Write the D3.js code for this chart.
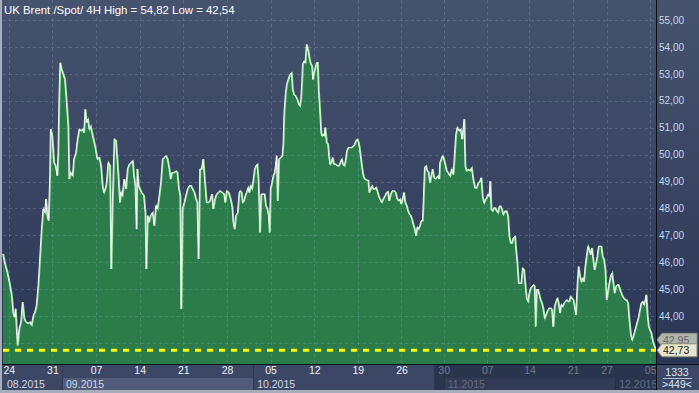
<!DOCTYPE html>
<html>
<head>
<meta charset="utf-8">
<script src="https://cdn.jsdelivr.net/npm/d3@7"></script>
<style>
body { margin: 0; background: #a6aebe; }
svg { display: block; font-family: "Liberation Sans", Arial, sans-serif; }
</style>
</head>
<body>
<div id="chart"></div>
<script>
// 4H bars shown: bar number (position in time) and close price
var barPos = [
  0,1.4,3.0,4.4,6.0,7.1,8.0,8.7,9.4,10.1,11.2,12.4,13.5,14.7,15.8,17.4,18.6,19.7,20.9,22.0,
  23.1,24.3,25.4,26.6,27.7,28.9,29.6,30.5,31.4,32.3,32.8,33.9,35.1,36.2,37.4,38.0,38.7,39.4,40.3,41.5,
  42.6,43.8,44.9,45.6,46.5,47.9,48.8,50.2,51.3,52.5,53.6,54.8,55.7,56.6,57.5,58.4,59.4,60.3,61.7,63.3,
  64.9,66.2,67.4,68.5,69.4,70.4,71.3,72.4,73.6,74.5,75.4,76.6,77.7,78.6,79.5,80.4,81.1,82.1,83.4,84.6,
  85.7,86.9,88.0,89.2,90.1,91.0,91.9,92.4,93.3,94.2,95.3,96.9,97.9,98.6,99.5,100.4,101.5,102.9,104.1,105.2,
  106.3,107.5,108.6,109.8,110.9,112.1,113.2,114.4,115.3,116.2,117.6,119.0,119.9,121.0,121.9,122.6,123.5,124.7,125.8,127.0,
  128.1,129.3,130.4,131.6,132.7,133.6,134.5,135.5,136.6,137.7,138.9,140.0,141.2,142.3,143.7,144.6,145.8,146.9,148.1,149.2,
  150.6,152.0,152.9,153.8,155.2,156.5,157.7,158.4,159.3,160.2,161.4,162.5,
  163.0,164.1,164.8,165.7,166.6,167.5,168.7,169.4,170.3,171.2,172.1,173.1,174.0,174.9,175.8,176.7,177.6,179.0,179.9,180.8,
  181.8,182.7,183.4,184.0,185.0,185.9,186.8,187.5,188.2,188.9,189.8,190.9,192.1,192.8,193.4,194.4,195.1,196.2,197.3,198.5,
  199.2,200.1,201.2,202.4,203.5,204.2,204.9,205.6,206.1,207.0,207.9,208.8,209.5,210.2,211.1,211.8,212.5,213.2,213.9,214.8,
  215.7,216.4,217.1,218.0,218.7,219.3,220.3,221.0,221.6,222.6,223.5,224.2,224.9,225.8,226.7,227.6,228.8,229.9,231.0,232.0,
  232.9,233.8,234.7,235.6,236.5,237.5,238.6,239.7,240.9,241.8,242.7,243.6,244.6,245.2,245.9,246.9,247.8,248.7,250.1,251.2,
  251.9,252.8,253.7,254.6,255.6,256.5,257.4,258.3,259.2,260.4,261.5,262.7,263.8,264.7,265.6,266.6,267.7,268.9,270.0,271.1,
  272.1,273.0,273.9,274.8,275.7,276.6,277.6,278.5,279.4,280.3,281.2,282.1,283.1,284.0,284.9,285.8,286.7,287.6,288.6,289.3,
  290.0,290.9,291.8,292.7,293.6,294.5,295.4,296.4,297.3,298.2,299.1,300.0,300.5,301.4,302.3,303.2,304.1,305.1,306.0,
  307.4,308.5,309.7,310.8,311.5,312.4,313.6,314.7,315.8,316.5,317.2,317.9,318.8,320.0,321.1,322.3,323.4,324.6,325.7,326.9,
  328.0,328.9,329.8,330.8,331.7,332.6,333.5,334.4,335.1,335.8,336.7,337.6,338.5,339.5,340.4,341.3,342.2,343.1,344.0,345.2,
  346.3,347.3,348.2,349.1,350.0,350.9,352.1,352.8,353.7,354.6,355.5,356.4,357.3,358.3,359.2,360.1,361.0,361.9,362.8,363.8,
  364.7,365.6,366.3,367.0,367.9,368.8,369.7,370.6,371.5,372.5,373.4,374.3,375.4,376.6,377.5,378.4,379.3,380.3,381.2,382.1,
  383.0,383.9,384.8,385.8,386.7,387.6,388.5,389.4,390.3,391.3,392.2,393.1,394.0,394.9,395.8,396.8,397.7,398.6,399.5,400.4,
  401.3,402.3,403.2,404.1,405.0,405.9,406.8,407.8,408.7,409.6,410.5,411.4,412.3,413.3,414.2,415.1,416.0,416.9,417.8,418.8,
  419.7,420.6,421.5,422.4,423.3,424.3,425.2,426.1,427.0,427.9,428.8,429.8,430.7,431.6,432.5,433.4,434.3,435.3,436.2,437.1,
  438.0,438.9,439.8,440.8,441.7,442.4,443.1,444.0,444.9,445.8,446.7,447.6,448.6,449
];
var closePrice = [
  46.31,45.94,45.63,45.26,44.77,44.09,43.96,44.27,43.53,42.91,43.53,43.78,44.52,43.90,43.78,43.72,43.78,43.66,44.02,44.15,
  44.40,45.14,46.12,47.23,47.98,47.85,48.35,47.73,47.54,49.21,50.94,50.69,49.70,49.58,49.21,50.07,52.17,53.41,53.16,52.98,
  52.79,51.93,51.06,49.09,49.33,49.21,49.83,50.07,50.57,50.94,50.88,50.94,50.81,51.68,51.19,51.31,50.94,51.06,50.69,50.32,
  49.83,49.89,49.58,48.84,48.59,48.72,48.96,49.70,49.58,45.75,48.22,50.57,50.51,49.83,49.09,48.22,48.59,48.47,49.09,48.72,
  49.46,49.64,49.70,49.77,49.21,48.84,47.23,49.46,48.84,48.72,48.59,48.47,47.85,45.75,47.73,47.48,47.73,47.85,47.36,48.10,
  47.98,48.47,48.96,49.83,49.89,49.95,49.83,49.46,49.09,49.33,49.33,49.39,49.33,48.72,48.47,44.27,47.98,48.22,48.47,48.72,
  48.84,48.84,48.72,48.59,48.35,48.22,46.12,49.46,49.46,49.83,48.96,48.22,48.22,48.28,48.53,47.98,48.35,48.53,48.59,48.65,
  48.59,48.53,48.22,48.65,48.59,48.35,48.04,47.48,47.23,47.73,47.85,48.59,
  48.65,48.59,48.22,48.28,48.47,48.59,48.78,48.59,48.84,48.72,49.02,49.46,49.58,49.64,48.96,47.11,48.53,48.53,48.53,48.10,
  47.98,47.73,47.11,48.72,48.96,49.21,49.33,49.58,49.96,48.28,49.83,49.89,49.95,50.44,51.56,52.30,52.60,52.79,52.98,53.04,
  52.42,52.23,52.17,52.05,51.86,51.80,52.05,52.67,53.35,53.47,53.41,54.09,53.96,53.78,53.47,53.35,53.28,52.79,53.04,53.22,
  53.41,53.41,52.36,51.62,50.88,50.69,50.75,50.69,51.00,50.44,50.38,49.95,49.64,49.70,49.89,49.64,49.64,49.58,49.58,49.70,
  49.83,49.64,49.58,49.77,50.14,50.26,50.26,50.26,50.32,50.38,50.51,50.57,50.44,50.26,49.96,49.52,49.21,49.09,49.05,49.04,
  48.59,48.72,48.84,48.72,48.72,48.78,48.65,48.47,48.35,48.22,48.35,48.47,48.59,48.62,48.28,48.53,48.65,48.65,48.59,48.35,
  48.28,48.35,48.16,48.35,48.59,48.22,48.10,47.91,47.79,47.73,47.60,47.42,47.23,46.99,47.30,47.23,47.36,47.54,47.54,48.47,
  49.52,49.58,49.39,49.33,48.96,49.21,49.46,49.15,49.09,49.15,49.21,49.09,49.70,49.83,49.95,49.83,49.64,49.39,49.33,
  49.20,49.45,49.26,50.19,50.75,51.00,50.88,50.94,50.57,50.94,51.31,49.57,49.39,49.45,49.39,49.51,49.07,48.76,48.76,48.95,
  49.01,49.14,48.45,48.20,48.33,48.39,48.52,48.45,49.01,47.96,47.90,48.02,48.02,47.90,47.83,48.08,48.08,47.96,47.77,47.90,
  47.90,47.71,46.96,46.71,46.71,46.90,46.96,46.47,45.97,45.22,45.22,45.22,45.78,45.72,45.16,44.66,44.54,44.85,45.04,45.10,
  45.16,45.10,43.61,44.98,44.98,44.79,44.60,44.48,44.29,43.92,44.04,44.17,44.29,44.29,44.23,43.61,44.35,44.54,44.66,44.48,
  44.11,44.42,44.35,44.48,44.54,44.60,44.54,44.54,44.73,44.66,44.60,44.35,44.04,45.10,45.84,45.47,45.28,45.41,45.28,45.84,
  46.22,46.59,46.47,46.28,46.53,46.09,45.72,45.97,46.22,46.59,46.59,46.59,46.22,46.09,45.72,44.60,44.91,45.22,45.47,45.60,
  45.22,44.85,45.10,45.16,45.16,44.98,44.85,44.73,44.66,44.60,44.60,44.48,43.86,43.36,43.11,43.23,43.42,43.61,43.79,43.98,
  44.23,44.48,44.54,44.42,44.60,44.79,44.11,43.61,43.48,43.36,43.11,42.93,42.80,42.73
];

var barCount = 449;
var priceTicks = [43, 44, 45, 46, 47, 48, 49, 50, 51, 52, 53, 54, 55];
var lastPrice = 42.73;
var hiddenPrice = 42.95;

// weekly ticks (bar number) and their day labels
var dayTicks  = [4, 34, 64, 94, 124, 154, 184, 214, 244, 274, 303, 333, 362, 392, 415, 445];
var dayLabels = ["24", "31", "07", "14", "21", "28", "05", "12", "19", "26", "30", "07", "14", "21", "27", "05"];

// months (first bar of each month)
var monthStart  = [0, 40.6, 172, 303, 421];
var monthLabels = ["08.2015", "09.2015", "10.2015", "11.2015", "12.2015"];
var loadedUntil = 296.5;   // bars after this drawn in the darker band

var titleText = "UK Brent /Spot/ 4H High = 54,82 Low = 42,54";
var barsTotal = "1333", barsShown = ">449<";

var W = 699, H = 393;
var plot = {left: 3, right: 656, top: 0, bottom: 364};

var x = d3.scaleLinear().domain([0, barCount]).range([plot.left, plot.right]);
var y = d3.scaleLinear().domain([43, 55]).range([343, 20]);

var svg = d3.select("#chart").append("svg")
    .attr("width", W)
    .attr("height", H);

var defs = svg.append("defs");
var grad = defs.append("linearGradient").attr("id", "bg")
    .attr("x1", 0).attr("y1", 0).attr("x2", 0).attr("y2", 1);
grad.append("stop").attr("offset", "0%").attr("stop-color", "#46536e");
grad.append("stop").attr("offset", "100%").attr("stop-color", "#2b3656");

// frame
svg.append("rect").attr("width", W).attr("height", H).attr("fill", "#a6aebe");
svg.append("rect").attr("x", 2).attr("y", 0).attr("width", W - 2).attr("height", plot.bottom)
    .attr("fill", "url(#bg)");
svg.append("rect").attr("x", 2).attr("y", plot.bottom).attr("width", W - 2).attr("height", 390 - plot.bottom)
    .attr("fill", "#3b4765");

// area
var pts = barPos.map(function(b, i) { return [b, closePrice[i]]; });

var area = d3.area()
    .x(function(d) { return x(d[0]); })
    .y0(plot.bottom)
    .y1(function(d) { return y(d[1]); });

var line = d3.line()
    .x(function(d) { return x(d[0]); })
    .y(function(d) { return y(d[1]); });

svg.append("path").datum(pts)
    .attr("d", area)
    .attr("fill", "#2b7c4a");

// grid
var grid = svg.append("g").attr("class", "grid");
grid.selectAll(".h").data(priceTicks).enter().append("line")
    .attr("x1", plot.left).attr("x2", plot.right)
    .attr("y1", function(d) { return Math.round(y(d)) + 0.5; })
    .attr("y2", function(d) { return Math.round(y(d)) + 0.5; });
grid.selectAll(".v").data(dayTicks).enter().append("line")
    .attr("x1", function(d) { return Math.round(x(d)) + 0.5; })
    .attr("x2", function(d) { return Math.round(x(d)) + 0.5; })
    .attr("y1", plot.top).attr("y2", plot.bottom);
grid.selectAll("line")
    .attr("stroke", "rgba(150,170,200,0.28)")
    .attr("stroke-dasharray", "3,3");

// price line: pale green edge with white core
svg.append("path").datum(pts)
    .attr("d", line)
    .attr("transform", "translate(0.4,0)")
    .attr("fill", "none")
    .attr("stroke", "#9fe39f")
    .attr("stroke-width", 1.4);
svg.append("path").datum(pts)
    .attr("d", line)
    .attr("transform", "translate(-0.3,0)")
    .attr("fill", "none")
    .attr("stroke", "#ffffff")
    .attr("stroke-width", 0.9);

// last price level
svg.append("line")
    .attr("x1", plot.left).attr("x2", plot.right)
    .attr("y1", y(lastPrice)).attr("y2", y(lastPrice))
    .attr("stroke", "#ffff00")
    .attr("stroke-width", 3)
    .attr("stroke-dasharray", "6,6");

// title
svg.append("text")
    .attr("x", 4).attr("y", 14)
    .attr("fill", "#ffffff")
    .style("font-size", "11.4px")
    .text(titleText);

// right price axis
var yAxis = d3.axisRight(y)
    .tickValues(priceTicks.filter(function(d) { return d > 43; }))
    .tickSize(0)
    .tickPadding(0)
    .tickFormat(function(d) { return d3.format(".2f")(d).replace(".", ","); });

var ya = svg.append("g")
    .attr("class", "y axis")
    .attr("transform", "translate(" + (plot.right + 3) + ",0)")
    .call(yAxis);
ya.select(".domain").remove();
ya.selectAll("text")
    .attr("fill", "#c4d6f2")
    .style("font-size", "10px")
    .style("font-family", "'Liberation Sans', Arial, sans-serif");

// price tags (one mostly hidden behind the last one)
function priceTag(v, dy, fill, stroke, txt) {
    var yy = y(v) + dy;
    var g = svg.append("g");
    g.append("path")
        .attr("d", "M" + (plot.right + 1) + "," + yy + " L" + (plot.right + 6) + "," + (yy - 6.5) +
            " H697 V" + (yy + 6.5) + " H" + (plot.right + 6) + " Z")
        .attr("fill", fill)
        .attr("stroke", stroke);
    g.append("text")
        .attr("x", plot.right + 7).attr("y", yy + 4)
        .attr("fill", txt)
        .style("font-size", "10.5px")
        .text(d3.format(".2f")(v).replace(".", ","));
}
priceTag(hiddenPrice, -4.5, "#b0b4aa", "#8e9288", "#666");
priceTag(lastPrice, 0, "#e6e6cc", "#8a8a7a", "#1a1a1a");

// bottom axis: month boxes
var mEnd = monthStart.slice(1).concat([barCount]);
var months = svg.append("g").attr("class", "months");
months.selectAll("rect").data(monthLabels).enter().append("rect")
    .attr("x", function(d, i) { return x(monthStart[i]); })
    .attr("y", 378)
    .attr("width", function(d, i) { return x(mEnd[i]) - x(monthStart[i]); })
    .attr("height", 12)
    .attr("fill", function(d, i) { return i % 2 ? "#4f5b78" : "#3b4765"; });
months.selectAll("line").data(monthStart.slice(1)).enter().append("line")
    .attr("x1", function(d) { return Math.round(x(d)) + 0.5; })
    .attr("x2", function(d) { return Math.round(x(d)) + 0.5; })
    .attr("y1", plot.bottom).attr("y2", 390)
    .attr("stroke", "#2e3852");
months.selectAll("text").data(monthLabels).enter().append("text")
    .attr("x", function(d, i) { return x(monthStart[i]) + 4; })
    .attr("y", 388)
    .attr("fill", "#d0d8e6")
    .style("font-size", "10.5px")
    .text(function(d) { return d; });

// day ticks
var xAxis = d3.axisBottom(x)
    .tickValues(dayTicks)
    .tickSize(0)
    .tickPadding(0)
    .tickFormat(function(d, i) { return dayLabels[i]; });

var xa = svg.append("g")
    .attr("class", "x axis")
    .attr("transform", "translate(0," + (plot.bottom + 3) + ")")
    .call(xAxis);
xa.select(".domain").remove();
xa.selectAll("text")
    .attr("fill", "#eef2f8")
    .style("font-size", "10.5px")
    .style("font-family", "'Liberation Sans', Arial, sans-serif");

// darker band over the later part of the axis
svg.append("rect")
    .attr("x", x(loadedUntil)).attr("y", plot.bottom)
    .attr("width", plot.right - x(loadedUntil)).attr("height", 390 - plot.bottom)
    .attr("fill", "#1f2942")
    .attr("opacity", 0.62);

// bar counter box
svg.append("text")
    .attr("x", 677).attr("y", 376)
    .attr("text-anchor", "middle")
    .attr("fill", "#dce6f6")
    .style("font-size", "10.5px")
    .text(barsTotal);
svg.append("line")
    .attr("x1", 663).attr("x2", 692).attr("y1", 378.5).attr("y2", 378.5)
    .attr("stroke", "#b8c6dc");
svg.append("text")
    .attr("x", 677).attr("y", 388)
    .attr("text-anchor", "middle")
    .attr("fill", "#dce6f6")
    .style("font-size", "10.5px")
    .text(barsShown);

// separators
svg.append("line")
    .attr("x1", 2).attr("x2", W).attr("y1", plot.bottom + 0.5).attr("y2", plot.bottom + 0.5)
    .attr("stroke", "#0b0f18");
svg.append("line")
    .attr("x1", plot.right + 0.5).attr("x2", plot.right + 0.5).attr("y1", 0).attr("y2", 390)
    .attr("stroke", "#0b0f18");
</script>
</body>
</html>
